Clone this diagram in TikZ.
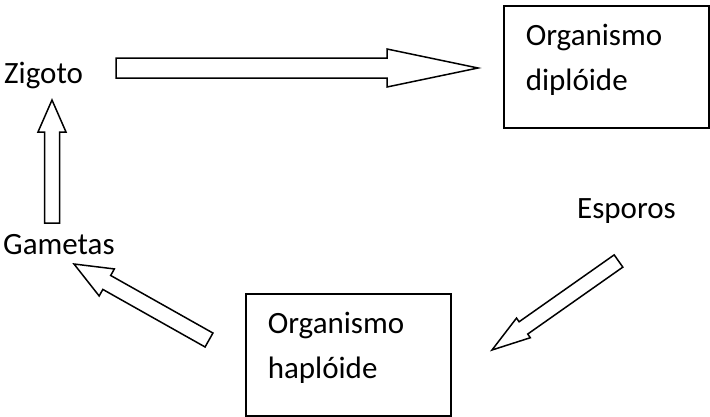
\documentclass[tikz,border=0pt]{standalone}
\usepackage{fontspec}
\setmainfont{Carlito}
\usepackage{tikz}
\usetikzlibrary{calc}

\newcommand{\blockarrow}[5]{%
\draw [black, line width=1.5pt, line join=miter] ($(#1)!#3!90:(#2)$) -- ($($(#2)!#5!(#1)$)!#3!90:(#2)$) -- ($($(#2)!#5!(#1)$)!#4!90:(#2)$) -- (#2) -- ($($(#2)!#5!(#1)$)!#4!-90:(#2)$) -- ($($(#2)!#5!(#1)$)!#3!-90:(#2)$) -- ($(#1)!#3!-90:(#2)$) -- cycle;}

\begin{document}
\begin{tikzpicture}[x=1pt,y=1pt]
\tikzstyle{every node}+=[inner sep=0pt, font=\fontsize{31}{45}\selectfont]
\tikzstyle{orgbox}=[draw=black, line width=1.6pt, inner xsep=22pt, inner ysep=0pt, text width=161pt, align=left, text height=40pt, text depth=82pt, anchor=north west]
\useasboundingbox (0,0) rectangle (710,-416);
\draw (4,-83) node [anchor=base west] (zig) {Zigoto};
\draw (3,-254) node [anchor=base west] (gam) {Gametas};
\draw (577,-218) node [anchor=base west] (esp) {Esporos};
\draw (503,-5) node [orgbox] (dip) {Organismo\\diplóide};
\draw (245,-293) node [orgbox] (hap) {Organismo\\haplóide};
\coordinate (zd1) at (116,-68);
\coordinate (zd2) at (478,-68);
\coordinate (gz1) at (52,-223);
\coordinate (gz2) at (52,-100);
\coordinate (hg1) at (209,-340);
\coordinate (hg2) at (74,-264);
\coordinate (eh1) at (618.5,-261);
\coordinate (eh2) at (492,-350);
\blockarrow{zd1}{zd2}{10pt}{19pt}{91pt}
\blockarrow{gz1}{gz2}{7.5pt}{14pt}{32pt}
\blockarrow{hg1}{hg2}{8pt}{15.5pt}{37.6pt}
\blockarrow{eh1}{eh2}{7.5pt}{12pt}{38.4pt}
\end{tikzpicture}
\end{document}
